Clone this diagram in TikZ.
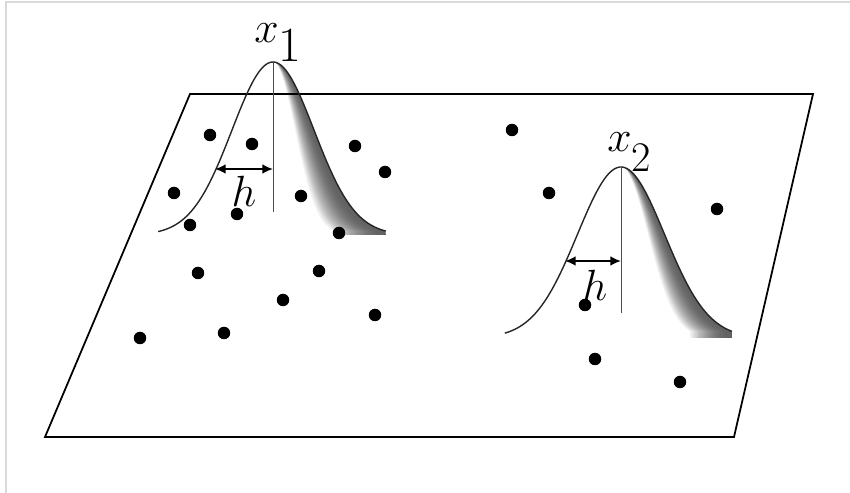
\documentclass[tikz,border=0pt]{standalone}
\usepackage{xcolor}
\usetikzlibrary{arrows.meta}
\tikzset{
  planeLine/.style={draw=black,line width=1pt,line join=miter},
  bumpLine/.style={draw=black!85,line width=0.8pt},
  axisLine/.style={draw=black!70,line width=0.5pt},
  widthArrow/.style={{Latex[length=6pt,width=5.5pt]}-{Latex[length=6pt,width=5.5pt]},line width=1.1pt},
  dataPt/.style={circle,fill=black,minimum size=0.25cm,inner sep=0pt},
  peakLbl/.style={anchor=base west,inner sep=0pt},
  hLbl/.style={anchor=base,inner sep=0pt,font=\fontsize{28}{32}\selectfont}
}

\begin{document}
\begin{tikzpicture}[x=0.02cm,y=-0.02cm]
  \useasboundingbox (0,0) rectangle (850,493);
  \draw[black!15,line width=1.2pt] (6,493) -- (6,2) -- (850,2);

  % shaded right halves
  \foreach \i in {0,...,24}{
    \pgfmathsetmacro\kA{1-0.46*\i/24}
    \pgfmathtruncatemacro\shadeA{62*(1-(\i/24)^2)}
    \fill[black!\shadeA] plot[domain=0:2.75,samples=40] ({273+41*\kA*\x},{235-173*exp(-\x*\x/2)})
      -- ({273+41*\kA*2.75},235) -- (273,235) -- cycle;
    \pgfmathsetmacro\kB{1-0.38*\i/24}
    \fill[black!\shadeA] plot[domain=0:2.55,samples=40] ({621+43.5*\kB*\x},{338-171*exp(-\x*\x/2)})
      -- ({621+43.5*\kB*2.55},338) -- (621,338) -- cycle;
  }

  % the plane
  \coordinate (pTL) at (190,94);
  \coordinate (pTR) at (813,94);
  \coordinate (pBR) at (734,437);
  \coordinate (pBL) at (45,437);
  \draw[planeLine] (pTL) -- (pTR) -- (pBR) -- (pBL) -- cycle;

  % kernels
  \draw[bumpLine] plot[domain=-2.8:2.75,samples=90] ({273+41*\x},{235-173*exp(-\x*\x/2)});
  \draw[bumpLine] plot[domain=-2.67:2.55,samples=90] ({621+43.5*\x},{338-171*exp(-\x*\x/2)});

  \coordinate (peakA) at (273,62);
  \coordinate (footA) at (273,212);
  \coordinate (peakB) at (621,167);
  \coordinate (footB) at (621,313);
  \draw[axisLine] (peakA) -- (footA);
  \draw[axisLine] (peakB) -- (footB);

  \coordinate (hA) at (215,169);
  \coordinate (hB) at (565,261);
  \draw[widthArrow] (hA) -- (hA -| peakA);
  \draw[widthArrow] (hB) -- (hB -| peakB);

  % sample points
  \foreach \px/\py [count=\i] in {210/135,252/144,355/146,385/172,174/193,301/196,
      237/214,190/225,339/233,198/273,319/271,283/300,375/315,140/338,224/333,
      512/130,549/193,717/209,585/305,595/359,680/382}
    \node[dataPt] (pt\i) at (\px,\py) {};

  \node[peakLbl] (lblA) at (254,43)
    {{\fontsize{34}{38}\selectfont$x$}{\fontsize{28}{30}\selectfont\raisebox{-10.8pt}{1}}};
  \node[peakLbl] (lblB) at (607,152)
    {{\fontsize{29}{32}\selectfont$x$}{\fontsize{24}{26}\selectfont\raisebox{-11.3pt}{2}}};
  \node[hLbl] (hLblA) at (244,207) {$h$};
  \node[hLbl] (hLblB) at (595,301) {$h$};
\end{tikzpicture}
\end{document}
